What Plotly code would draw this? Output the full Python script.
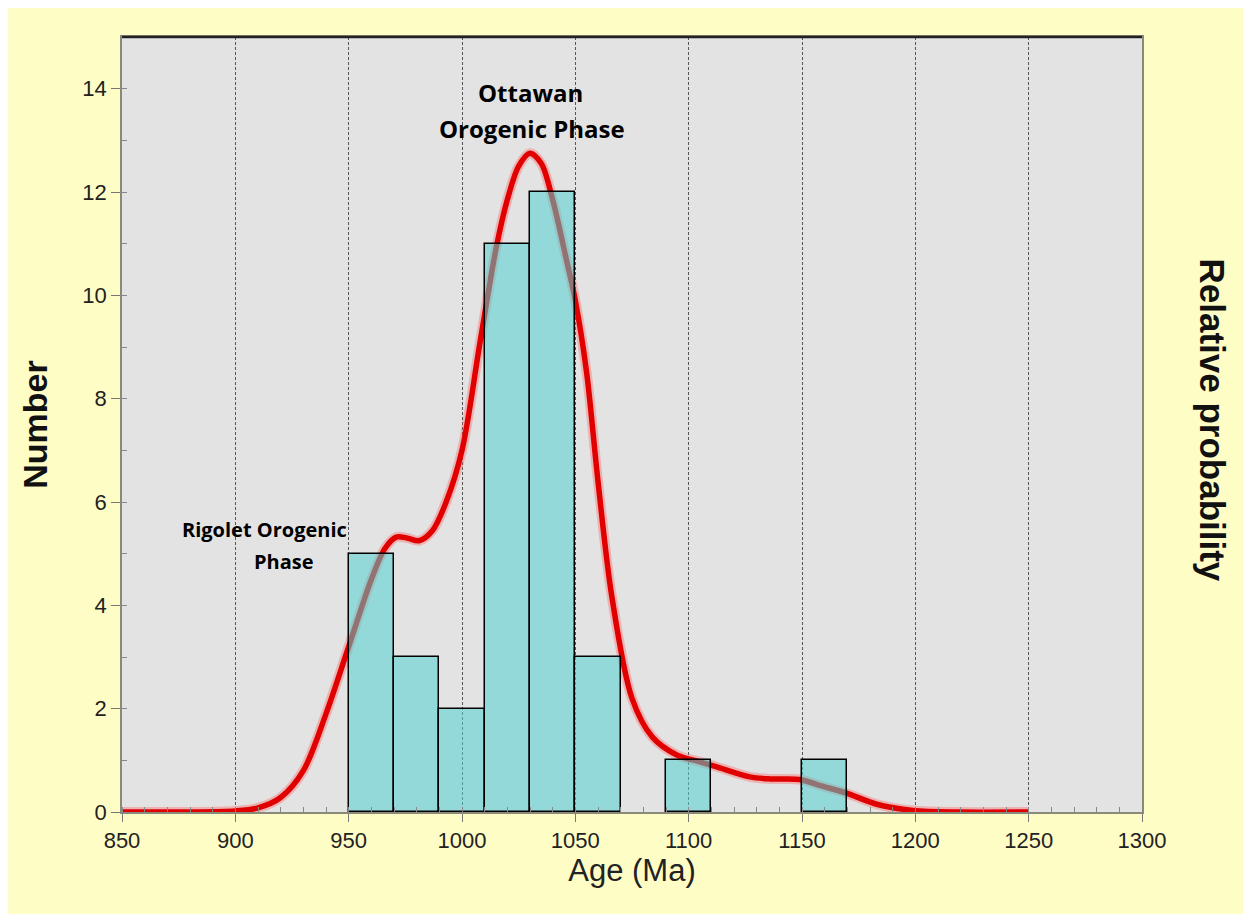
import plotly.graph_objects as go

# Histogram bins (left edge, Ma) and counts
bin_left = [950, 970, 990, 1010, 1030, 1050, 1090, 1150]
bin_width = 20
counts = [5, 3, 2, 11, 12, 3, 1, 1]

# Relative probability curve (scaled to Number axis)
curve_age = [850, 880, 900, 910, 920, 930, 940, 950, 960, 966, 971, 976, 981, 987, 993,
             1000, 1008, 1015, 1020, 1025, 1030, 1035, 1040, 1046, 1050, 1055, 1060, 1066,
             1075, 1084, 1095, 1105, 1112, 1127, 1136, 1149, 1159, 1170, 1183, 1199, 1220, 1250]
curve_val = [0.0, 0.0, 0.02, 0.08, 0.28, 0.8, 1.9, 3.2, 4.5, 5.1, 5.32, 5.3, 5.25, 5.45, 6.0,
             7.0, 9.1, 10.9, 11.85, 12.5, 12.75, 12.55, 11.85, 10.7, 9.9, 8.5, 6.4, 4.2,
             2.2, 1.45, 1.1, 0.97, 0.88, 0.68, 0.64, 0.63, 0.5, 0.36, 0.15, 0.03, 0.0, 0.0]

x_ticks = [850, 900, 950, 1000, 1050, 1100, 1150, 1200, 1250, 1300]
y_ticks = [0, 2, 4, 6, 8, 10, 12, 14]
x_range = [850, 1300]
y_range = [0, 15]

FONT = "Liberation Sans"

fig = go.Figure()

# curve on the base subplot (drawn below bars)
fig.add_trace(go.Scatter(x=curve_age, y=curve_val, mode="lines",
                         line=dict(color="rgba(255,90,90,0.35)", width=10, shape="spline", smoothing=0.9),
                         hoverinfo="skip", showlegend=False))
fig.add_trace(go.Scatter(x=curve_age, y=curve_val, mode="lines",
                         line=dict(color="#E00000", width=5.5, shape="spline", smoothing=0.9),
                         showlegend=False))

# bars on an overlaying subplot so they sit above the curve
fig.add_trace(go.Bar(x=bin_left, y=counts, width=bin_width, offset=0,
                     xaxis="x2", yaxis="y2",
                     marker=dict(color="rgba(82,209,209,0.55)",
                                 line=dict(color="#000000", width=1.5)),
                     showlegend=False))

axis_font = dict(family=FONT, size=22, color="#222222")

fig.update_layout(
    width=1237, height=906,
    margin=dict(l=114, r=103, t=29, b=102),
    paper_bgcolor="#FFFDC6",
    plot_bgcolor="#E3E3E3",
    bargap=0,
    showlegend=False,
    xaxis=dict(
        range=x_range, tickvals=x_ticks, ticktext=[str(v) for v in x_ticks],
        tickfont=axis_font, ticks="outside", ticklen=8, tickcolor="#777777",
        showline=True, linecolor="#8a8a7a", linewidth=1.5, mirror=True,
        showgrid=True, gridcolor="#555555", gridwidth=1, griddash="3px,2px",
        minor=dict(dtick=10, tick0=850, ticks="inside", ticklen=5, tickcolor="#888888", showgrid=False),
        zeroline=False,
        title=dict(text="Age (Ma)", font=dict(family=FONT, size=31, color="#222222"), standoff=6),
    ),
    yaxis=dict(
        range=y_range, tickvals=y_ticks, ticktext=[str(v) for v in y_ticks],
        tickfont=axis_font, ticks="outside", ticklen=9, tickcolor="#777777",
        showline=True, linecolor="#8a8a7a", linewidth=1.5, mirror=True,
        showgrid=False, zeroline=False,
        minor=dict(dtick=1, tick0=0, ticks="inside", ticklen=5, tickcolor="#888888", showgrid=False),
        title=dict(text="<b>Number</b>", font=dict(family=FONT, size=34, color="#111111"), standoff=24),
    ),
    xaxis2=dict(range=x_range, overlaying="x", visible=False, showgrid=False, zeroline=False),
    yaxis2=dict(range=y_range, overlaying="y", visible=False, showgrid=False, zeroline=False),
    annotations=[
        dict(text="<b>Relative probability</b>", x=1.069, y=0.506, xref="paper", yref="paper",
             textangle=90, showarrow=False, xanchor="center", yanchor="middle",
             font=dict(family=FONT, size=35, color="#111111")),
        dict(text="<b>Ottawan</b>", x=1030, y=13.93, xref="x", yref="y",
             showarrow=False, xanchor="center", yanchor="middle",
             font=dict(family="Open Sans", size=24, color="#000000")),
        dict(text="<b>Orogenic Phase</b>", x=1031, y=13.23, xref="x", yref="y",
             showarrow=False, xanchor="center", yanchor="middle",
             font=dict(family="Open Sans", size=24, color="#000000")),
        dict(text="<b>Rigolet Orogenic</b>", x=913, y=5.47, xref="x", yref="y",
             showarrow=False, xanchor="center", yanchor="middle",
             font=dict(family="Open Sans", size=20, color="#000000")),
        dict(text="<b>Phase</b>", x=921.5, y=4.85, xref="x", yref="y",
             showarrow=False, xanchor="center", yanchor="middle",
             font=dict(family="Open Sans", size=20, color="#000000")),
    ],
    shapes=[
        dict(type="line", xref="paper", yref="paper", x0=0, x1=1, y0=1, y1=1,
             line=dict(color="#222222", width=2.5)),
    ],
)

fig.write_html("out.html")
